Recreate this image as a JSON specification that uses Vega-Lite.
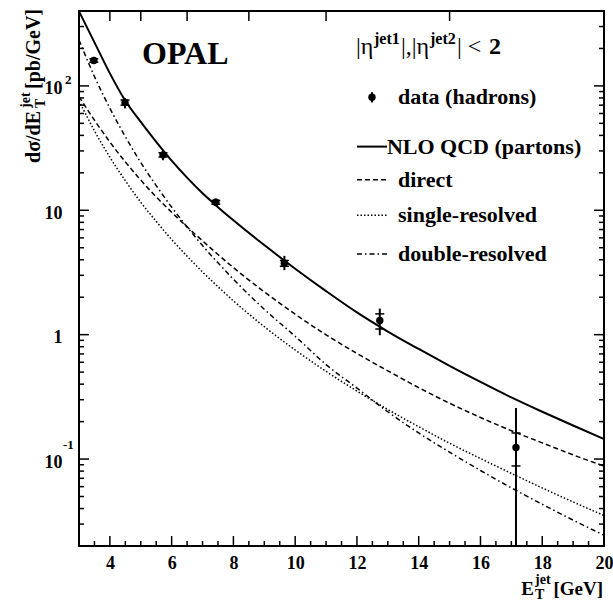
{
  "$schema": "https://vega.github.io/schema/vega-lite/v6.json",
  "width": 525,
  "height": 535,
  "autosize": {"type": "none"},
  "padding": {"left": 79, "top": 11, "right": 9, "bottom": 57},
  "background": "white",
  "data": {"values": [{}]},
  "config": {
    "view": {"stroke": "black", "strokeWidth": 2},
    "axis": {"domain": false, "grid": false, "ticks": false, "labelFont": "Liberation Serif", "labelFontWeight": "bold", "labelFontSize": 18, "labelColor": "black"},
    "text": {"font": "Liberation Serif", "fontWeight": "bold", "color": "black"},
    "tick": {"color": "black", "thickness": 1.5, "opacity": 1},
    "rule": {"color": "black"}
  },
  "datasets": {
    "curves": [
      {"E": 3, "nlo": 398, "direct": 82.0, "single": 75.9, "double": 234},
      {"E": 3.5, "nlo": 224, "direct": 53.0, "single": 43.6, "double": 119},
      {"E": 4, "nlo": 126, "direct": 35.4, "single": 26.7, "double": 66.1},
      {"E": 4.5, "nlo": 75.9, "direct": 24.5, "single": 17.3, "double": 39.1},
      {"E": 5, "nlo": 51.3, "direct": 17.5, "single": 11.6, "double": 24.2},
      {"E": 5.5, "nlo": 35.5, "direct": 12.8, "single": 8.15, "double": 15.8},
      {"E": 6, "nlo": 25.1, "direct": 9.64, "single": 5.82, "double": 10.6},
      {"E": 6.5, "nlo": 18.3, "direct": 7.35, "single": 4.28, "double": 7.35},
      {"E": 7, "nlo": 13.7, "direct": 5.68, "single": 3.19, "double": 5.20},
      {"E": 7.5, "nlo": 10.6, "direct": 4.41, "single": 2.43, "double": 3.78},
      {"E": 8, "nlo": 8.32, "direct": 3.46, "single": 1.87, "double": 2.79},
      {"E": 9, "nlo": 5.25, "direct": 2.21, "single": 1.16, "double": 1.60},
      {"E": 10, "nlo": 3.39, "direct": 1.46, "single": 0.753, "double": 0.970},
      {"E": 11, "nlo": 2.24, "direct": 0.998, "single": 0.507, "double": 0.575},
      {"E": 12, "nlo": 1.51, "direct": 0.706, "single": 0.352, "double": 0.372},
      {"E": 13, "nlo": 1.06, "direct": 0.512, "single": 0.250, "double": 0.240},
      {"E": 14, "nlo": 0.767, "direct": 0.375, "single": 0.182, "double": 0.162},
      {"E": 15, "nlo": 0.562, "direct": 0.281, "single": 0.134, "double": 0.1135},
      {"E": 16, "nlo": 0.417, "direct": 0.216, "single": 0.101, "double": 0.0809},
      {"E": 17, "nlo": 0.313, "direct": 0.169, "single": 0.0767, "double": 0.0587},
      {"E": 18, "nlo": 0.240, "direct": 0.135, "single": 0.0586, "double": 0.0433},
      {"E": 19, "nlo": 0.186, "direct": 0.108, "single": 0.0452, "double": 0.0323},
      {"E": 20, "nlo": 0.145, "direct": 0.0879, "single": 0.0352, "double": 0.0244}
    ],
    "points": [
      {"E": 3.48, "xs": 160, "lo": 150, "hi": 171, "slo": 155, "shi": 165},
      {"E": 4.49, "xs": 73.5, "lo": 66, "hi": 80, "slo": 70, "shi": 77},
      {"E": 5.72, "xs": 27.9, "lo": 25.2, "hi": 30.5, "slo": 26.8, "shi": 29},
      {"E": 7.43, "xs": 11.6, "lo": 10.8, "hi": 12.4, "slo": 11.2, "shi": 12.0},
      {"E": 9.65, "xs": 3.75, "lo": 3.3, "hi": 4.3, "slo": 3.55, "shi": 3.95},
      {"E": 12.74, "xs": 1.30, "lo": 0.99, "hi": 1.62, "slo": 1.11, "shi": 1.47},
      {"E": 17.15, "xs": 0.124, "lo": 0.001, "hi": 0.257, "slo": 0.088, "shi": 0.162}
    ]
  },
  "layer": [
    {
      "data": {"name": "curves"},
      "mark": {"type": "line", "color": "black", "strokeWidth": 2, "interpolate": "monotone", "clip": true},
      "encoding": {
        "x": {"field": "E", "type": "quantitative", "title": null, "scale": {"domain": [3, 20], "nice": false, "zero": false},
              "axis": {"orient": "bottom", "title": null, "values": [4, 6, 8, 10, 12, 14, 16, 18, 20], "labelPadding": 8, "labelFlush": false, "format": "d"}},
        "y": {"field": "nlo", "type": "quantitative", "title": null, "scale": {"type": "log", "domain": [0.02, 400], "nice": false},
              "axis": {"orient": "left", "title": null, "values": [0.1, 1, 10, 100], "labelPadding": 17, "labelFlush": false, "labelOffset": 3,
                       "labelExpr": "datum.value == 100 || datum.value == 10 ? '10' : datum.value == 1 ? '1' : datum.value == 0.1 ? '10\u00a0\u00a0' : ''"}}
      }
    },
    {
      "data": {"name": "curves"},
      "mark": {"type": "line", "color": "black", "strokeWidth": 1.5, "strokeDash": [5, 3], "interpolate": "monotone", "clip": true},
      "encoding": {
        "x": {"field": "E", "type": "quantitative", "title": null},
        "y": {"field": "direct", "type": "quantitative", "title": null}
      }
    },
    {
      "data": {"name": "curves"},
      "mark": {"type": "line", "color": "black", "strokeWidth": 1.5, "strokeDash": [1.5, 2], "interpolate": "monotone", "clip": true},
      "encoding": {
        "x": {"field": "E", "type": "quantitative", "title": null},
        "y": {"field": "single", "type": "quantitative", "title": null}
      }
    },
    {
      "data": {"name": "curves"},
      "mark": {"type": "line", "color": "black", "strokeWidth": 1.5, "strokeDash": [5, 3, 1.5, 3], "interpolate": "monotone", "clip": true},
      "encoding": {
        "x": {"field": "E", "type": "quantitative", "title": null},
        "y": {"field": "double", "type": "quantitative", "title": null}
      }
    },
    {
      "data": {"values": [{"tx": 4}, {"tx": 6}, {"tx": 8}, {"tx": 10}, {"tx": 12}, {"tx": 14}, {"tx": 16}, {"tx": 18}]},
      "mark": {"type": "rule", "strokeWidth": 1.5, "color": "black"},
      "encoding": {"x": {"field": "tx", "type": "quantitative", "title": null}, "y": {"datum": 0.02}, "y2": {"datum": 0.02405}}
    },
    {
      "data": {"values": [{"tx": 3.5}, {"tx": 4.5}, {"tx": 5}, {"tx": 5.5}, {"tx": 6.5}, {"tx": 7}, {"tx": 7.5}, {"tx": 8.5}, {"tx": 9}, {"tx": 9.5}, {"tx": 10.5}, {"tx": 11}, {"tx": 11.5}, {"tx": 12.5}, {"tx": 13}, {"tx": 13.5}, {"tx": 14.5}, {"tx": 15}, {"tx": 15.5}, {"tx": 16.5}, {"tx": 17}, {"tx": 17.5}, {"tx": 18.5}, {"tx": 19}, {"tx": 19.5}]},
      "mark": {"type": "rule", "strokeWidth": 1.5, "color": "black"},
      "encoding": {"x": {"field": "tx", "type": "quantitative", "title": null}, "y": {"datum": 0.02}, "y2": {"datum": 0.02193}}
    },
    {
      "data": {"values": [{"tx": 4}, {"tx": 5}, {"tx": 6.5}, {"tx": 8.5}, {"tx": 11}, {"tx": 15}]},
      "mark": {"type": "rule", "strokeWidth": 1.5, "color": "black"},
      "encoding": {"x": {"field": "tx", "type": "quantitative", "title": null}, "y": {"datum": 400}, "y2": {"datum": 332.6}}
    },
    {
      "data": {"values": [{"ty": 0.1}, {"ty": 1}, {"ty": 10}, {"ty": 100}]},
      "mark": {"type": "rule", "strokeWidth": 1.5, "color": "black"},
      "encoding": {"y": {"field": "ty", "type": "quantitative", "title": null}, "x": {"datum": 3}, "x2": {"datum": 3.324}}
    },
    {
      "data": {"values": [{"ty": 0.03}, {"ty": 0.04}, {"ty": 0.05}, {"ty": 0.06}, {"ty": 0.07}, {"ty": 0.08}, {"ty": 0.09}, {"ty": 0.2}, {"ty": 0.3}, {"ty": 0.4}, {"ty": 0.5}, {"ty": 0.6}, {"ty": 0.7}, {"ty": 0.8}, {"ty": 0.9}, {"ty": 2}, {"ty": 3}, {"ty": 4}, {"ty": 5}, {"ty": 6}, {"ty": 7}, {"ty": 8}, {"ty": 9}, {"ty": 20}, {"ty": 30}, {"ty": 40}, {"ty": 50}, {"ty": 60}, {"ty": 70}, {"ty": 80}, {"ty": 90}, {"ty": 200}, {"ty": 300}]},
      "mark": {"type": "rule", "strokeWidth": 1.5, "color": "black"},
      "encoding": {"y": {"field": "ty", "type": "quantitative", "title": null}, "x": {"datum": 3}, "x2": {"datum": 3.162}}
    },
    {
      "data": {"values": [{"ty": 0.1}, {"ty": 1}, {"ty": 10}, {"ty": 100}]},
      "mark": {"type": "rule", "strokeWidth": 1.5, "color": "black"},
      "encoding": {"y": {"field": "ty", "type": "quantitative", "title": null}, "x": {"datum": 20}, "x2": {"datum": 19.676}}
    },
    {
      "data": {"values": [{"ty": 0.03}, {"ty": 0.04}, {"ty": 0.05}, {"ty": 0.06}, {"ty": 0.07}, {"ty": 0.08}, {"ty": 0.09}, {"ty": 0.2}, {"ty": 0.3}, {"ty": 0.4}, {"ty": 0.5}, {"ty": 0.6}, {"ty": 0.7}, {"ty": 0.8}, {"ty": 0.9}, {"ty": 2}, {"ty": 3}, {"ty": 4}, {"ty": 5}, {"ty": 6}, {"ty": 7}, {"ty": 8}, {"ty": 9}, {"ty": 20}, {"ty": 30}, {"ty": 40}, {"ty": 50}, {"ty": 60}, {"ty": 70}, {"ty": 80}, {"ty": 90}, {"ty": 200}, {"ty": 300}]},
      "mark": {"type": "rule", "strokeWidth": 1.5, "color": "black"},
      "encoding": {"y": {"field": "ty", "type": "quantitative", "title": null}, "x": {"datum": 20}, "x2": {"datum": 19.838}}
    },
    {
      "data": {"name": "points"},
      "mark": {"type": "rule", "color": "black", "strokeWidth": 2, "clip": true},
      "encoding": {
        "x": {"field": "E", "type": "quantitative", "title": null},
        "y": {"field": "lo", "type": "quantitative", "title": null},
        "y2": {"field": "hi"}
      }
    },
    {
      "data": {"name": "points"},
      "transform": [{"fold": ["slo", "shi"], "as": ["k", "v"]}],
      "mark": {"type": "tick", "orient": "horizontal", "size": 9},
      "encoding": {
        "x": {"field": "E", "type": "quantitative", "title": null},
        "y": {"field": "v", "type": "quantitative", "title": null}
      }
    },
    {
      "data": {"name": "points"},
      "mark": {"type": "circle", "color": "black", "size": 55, "opacity": 1},
      "encoding": {
        "x": {"field": "E", "type": "quantitative", "title": null},
        "y": {"field": "xs", "type": "quantitative", "title": null}
      }
    },
    {
      "mark": {"type": "text", "text": "OPAL", "fontSize": 32, "align": "left", "baseline": "alphabetic"},
      "encoding": {"x": {"datum": 5.04}, "y": {"datum": 150}}
    },
    {
      "mark": {"type": "text", "text": "2", "fontSize": 13, "align": "left", "baseline": "middle", "dx": -14, "dy": -6},
      "encoding": {"x": {"datum": 3}, "y": {"datum": 100}}
    },
    {
      "mark": {"type": "text", "text": "-1", "fontSize": 13, "align": "left", "baseline": "middle", "dx": -16, "dy": -14},
      "encoding": {"x": {"datum": 3}, "y": {"datum": 0.1}}
    },
    {
      "mark": {"type": "text", "text": "dσ/dE", "fontSize": 20, "align": "left", "baseline": "alphabetic", "angle": 270, "dx": 0, "dy": -39},
      "encoding": {"x": {"datum": 3}, "y": {"datum": 24}}
    },
    {
      "mark": {"type": "text", "text": "jet", "fontSize": 14, "align": "left", "baseline": "alphabetic", "angle": 270, "dx": 55, "dy": -49},
      "encoding": {"x": {"datum": 3}, "y": {"datum": 24}}
    },
    {
      "mark": {"type": "text", "text": "T", "fontSize": 14, "align": "left", "baseline": "alphabetic", "angle": 270, "dx": 55, "dy": -34},
      "encoding": {"x": {"datum": 3}, "y": {"datum": 24}}
    },
    {
      "mark": {"type": "text", "text": "[pb/GeV]", "fontSize": 20, "align": "left", "baseline": "alphabetic", "angle": 270, "dx": 74, "dy": -39},
      "encoding": {"x": {"datum": 3}, "y": {"datum": 24}}
    },
    {
      "mark": {"type": "text", "text": "E", "fontSize": 19, "align": "right", "baseline": "alphabetic", "dx": -70, "dy": 49},
      "encoding": {"x": {"datum": 20}, "y": {"datum": 0.02}}
    },
    {
      "mark": {"type": "text", "text": "jet", "fontSize": 14, "align": "left", "baseline": "alphabetic", "dx": -69, "dy": 38},
      "encoding": {"x": {"datum": 20}, "y": {"datum": 0.02}}
    },
    {
      "mark": {"type": "text", "text": "T", "fontSize": 14, "align": "left", "baseline": "alphabetic", "dx": -69, "dy": 53},
      "encoding": {"x": {"datum": 20}, "y": {"datum": 0.02}}
    },
    {
      "mark": {"type": "text", "text": "[GeV]", "fontSize": 19, "align": "right", "baseline": "alphabetic", "dx": -1, "dy": 49},
      "encoding": {"x": {"datum": 20}, "y": {"datum": 0.02}}
    },
    {
      "mark": {"type": "text", "text": "|η", "fontSize": 24, "fontWeight": "normal", "align": "left", "baseline": "alphabetic", "dx": 0},
      "encoding": {"x": {"datum": 11.97}, "y": {"datum": 180}}
    },
    {
      "mark": {"type": "text", "text": "jet1", "fontSize": 16, "align": "left", "baseline": "alphabetic", "dx": 18, "dy": -10},
      "encoding": {"x": {"datum": 11.97}, "y": {"datum": 180}}
    },
    {
      "mark": {"type": "text", "text": "|,|η", "fontSize": 24, "fontWeight": "normal", "align": "left", "baseline": "alphabetic", "dx": 45},
      "encoding": {"x": {"datum": 11.97}, "y": {"datum": 180}}
    },
    {
      "mark": {"type": "text", "text": "jet2", "fontSize": 16, "align": "left", "baseline": "alphabetic", "dx": 74, "dy": -10},
      "encoding": {"x": {"datum": 11.97}, "y": {"datum": 180}}
    },
    {
      "mark": {"type": "text", "text": "| < ", "fontSize": 24, "fontWeight": "normal", "align": "left", "baseline": "alphabetic", "dx": 101},
      "encoding": {"x": {"datum": 11.97}, "y": {"datum": 180}}
    },
    {
      "mark": {"type": "text", "text": "2", "fontSize": 24, "align": "left", "baseline": "alphabetic", "dx": 133},
      "encoding": {"x": {"datum": 11.97}, "y": {"datum": 180}}
    },
    {
      "mark": {"type": "circle", "color": "black", "size": 55, "opacity": 1},
      "encoding": {"x": {"datum": 12.487}, "y": {"datum": 81}}
    },
    {
      "mark": {"type": "rule", "color": "black", "strokeWidth": 2},
      "encoding": {"x": {"datum": 12.487}, "y": {"datum": 73.6}, "y2": {"datum": 89}}
    },
    {
      "mark": {"type": "text", "text": "data (hadrons)", "fontSize": 22, "align": "left", "baseline": "middle"},
      "encoding": {"x": {"datum": 13.33}, "y": {"datum": 81}}
    },
    {
      "mark": {"type": "rule", "color": "black", "strokeWidth": 2},
      "encoding": {"x": {"datum": 12.002}, "x2": {"datum": 12.973}, "y": {"datum": 32.5}}
    },
    {
      "mark": {"type": "text", "text": "NLO QCD (partons)", "fontSize": 22, "align": "left", "baseline": "middle"},
      "encoding": {"x": {"datum": 12.97}, "y": {"datum": 32.5}}
    },
    {
      "mark": {"type": "rule", "color": "black", "strokeWidth": 1.5, "strokeDash": [5, 3]},
      "encoding": {"x": {"datum": 12.002}, "x2": {"datum": 12.973}, "y": {"datum": 17.6}}
    },
    {
      "mark": {"type": "text", "text": "direct", "fontSize": 22, "align": "left", "baseline": "middle"},
      "encoding": {"x": {"datum": 13.33}, "y": {"datum": 17.6}}
    },
    {
      "mark": {"type": "rule", "color": "black", "strokeWidth": 1.5, "strokeDash": [1.5, 2]},
      "encoding": {"x": {"datum": 12.002}, "x2": {"datum": 12.973}, "y": {"datum": 9.1}}
    },
    {
      "mark": {"type": "text", "text": "single-resolved", "fontSize": 22, "align": "left", "baseline": "middle"},
      "encoding": {"x": {"datum": 13.33}, "y": {"datum": 9.1}}
    },
    {
      "mark": {"type": "rule", "color": "black", "strokeWidth": 1.5, "strokeDash": [5, 3, 1.5, 3]},
      "encoding": {"x": {"datum": 12.002}, "x2": {"datum": 12.973}, "y": {"datum": 4.45}}
    },
    {
      "mark": {"type": "text", "text": "double-resolved", "fontSize": 22, "align": "left", "baseline": "middle"},
      "encoding": {"x": {"datum": 13.33}, "y": {"datum": 4.45}}
    }
  ]
}
